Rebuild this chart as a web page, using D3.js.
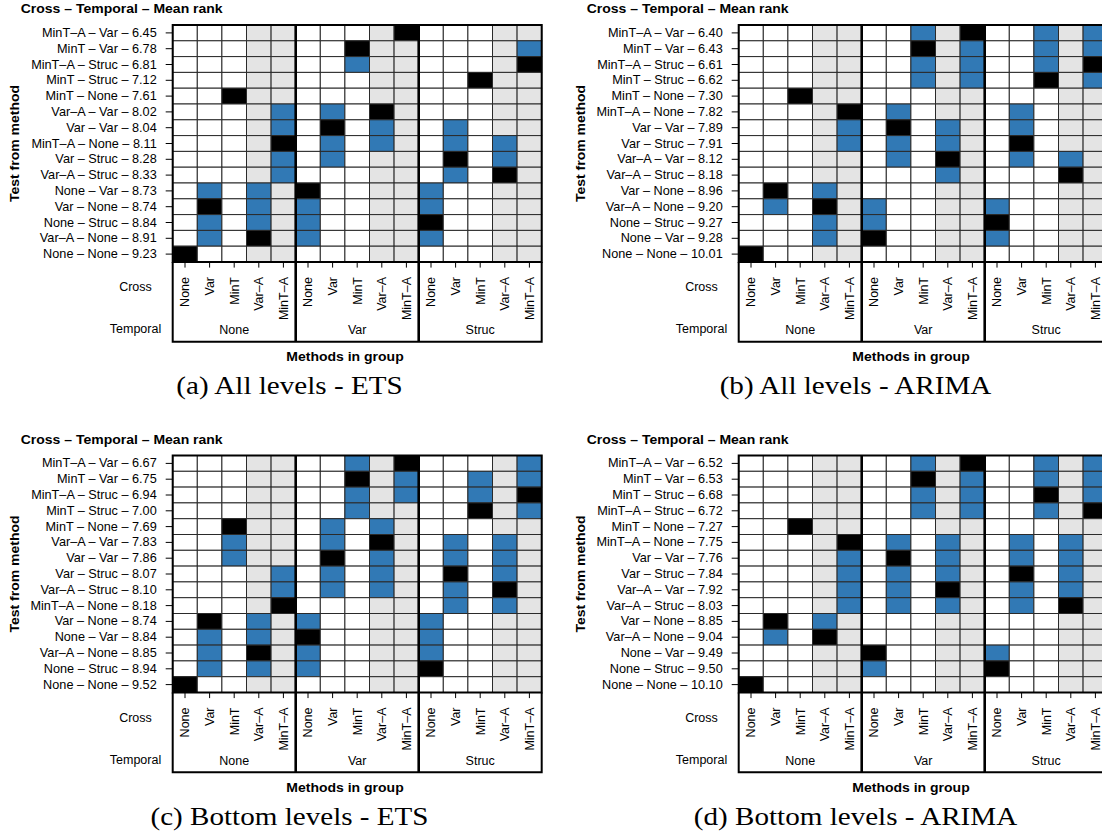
<!DOCTYPE html>
<html>
<head>
<meta charset="utf-8">
<script src="https://cdn.jsdelivr.net/npm/d3@7"></script>
<style>
  body { margin: 0; background: #fff; }
  svg { display: block; font-family: "Liberation Sans", Arial, sans-serif; }
</style>
</head>
<body>
<div id="chart"></div>
<script>
// Column layout: temporal groups, each holding the five cross-sectional methods
const crossLevels = ["None", "Var", "MinT", "Var–A", "MinT–A"];
const temporalLevels = ["None", "Var", "Struc"];
const shadedCross = ["Var–A", "MinT–A"];

// (a) All levels - ETS
const aCross = ["MinT–A", "MinT", "MinT–A", "MinT", "MinT", "Var–A", "Var", "MinT–A", "Var", "Var–A", "None", "Var", "None", "Var–A", "None"];
const aTemporal = ["Var", "Var", "Struc", "Struc", "None", "Var", "Var", "None", "Struc", "Struc", "Var", "None", "Struc", "None", "None"];
const aRank = [6.45, 6.78, 6.81, 7.12, 7.61, 8.02, 8.04, 8.11, 8.28, 8.33, 8.73, 8.74, 8.84, 8.91, 9.23];
const aSimilar = [[], [14], [7], [], [], [4, 6], [4, 8, 11], [6, 8, 11, 13], [4, 6, 13], [4, 11], [1, 3, 10], [3, 5, 10], [1, 3, 5], [1, 5, 10], []];

// (b) All levels - ARIMA
const bCross = ["MinT–A", "MinT", "MinT–A", "MinT", "MinT", "MinT–A", "Var", "Var", "Var–A", "Var–A", "Var", "Var–A", "None", "None", "None"];
const bTemporal = ["Var", "Var", "Struc", "Struc", "None", "None", "Var", "Struc", "Var", "Struc", "None", "None", "Struc", "Var", "None"];
const bRank = [6.40, 6.43, 6.61, 6.62, 7.30, 7.82, 7.89, 7.91, 8.12, 8.18, 8.96, 9.20, 9.27, 9.28, 10.01];
const bSimilar = [[7, 12, 14], [9, 12, 14], [7, 9, 12], [7, 9, 14], [], [6, 11], [4, 8, 11], [4, 6, 8], [6, 11, 13], [8], [3], [1, 5, 10], [3, 5], [3, 10], []];

// (c) Bottom levels - ETS
const cCross = ["MinT–A", "MinT", "MinT–A", "MinT", "MinT", "Var–A", "Var", "Var", "Var–A", "MinT–A", "Var", "None", "Var–A", "None", "None"];
const cTemporal = ["Var", "Var", "Struc", "Struc", "None", "Var", "Var", "Struc", "Struc", "None", "None", "Var", "None", "Struc", "None"];
const cRank = [6.67, 6.75, 6.94, 7.00, 7.69, 7.83, 7.86, 8.07, 8.10, 8.18, 8.74, 8.84, 8.85, 8.94, 9.52];
const cSimilar = [[7, 14], [9, 12, 14], [7, 9, 12], [7, 14], [6, 8], [2, 6, 11, 13], [2, 8, 11, 13], [4, 6, 8, 13], [4, 6, 8, 11], [11, 13], [3, 5, 10], [1, 3, 10], [1, 5, 10], [1, 3, 5], []];

// (d) Bottom levels - ARIMA
const dCross = ["MinT–A", "MinT", "MinT", "MinT–A", "MinT", "MinT–A", "Var", "Var", "Var–A", "Var–A", "Var", "Var–A", "None", "None", "None"];
const dTemporal = ["Var", "Var", "Struc", "Struc", "None", "None", "Var", "Struc", "Var", "Struc", "None", "None", "Var", "Struc", "None"];
const dRank = [6.52, 6.53, 6.68, 6.72, 7.27, 7.75, 7.76, 7.84, 7.92, 8.03, 8.85, 9.04, 9.49, 9.50, 10.10];
const dSimilar = [[7, 12, 14], [9, 12, 14], [7, 9, 14], [7, 9, 12], [], [6, 8, 11, 13], [4, 8, 11, 13], [4, 6, 8, 13], [4, 6, 11, 13], [4, 6, 8, 11], [3], [1], [10], [5], []];

const captions = ["(a) All levels - ETS", "(b) All levels - ARIMA", "(c) Bottom levels - ETS", "(d) Bottom levels - ARIMA"];

const panels = [
  { cross: aCross, temporal: aTemporal, rank: aRank, similar: aSimilar, dx: 0, dy: 0 },
  { cross: bCross, temporal: bTemporal, rank: bRank, similar: bSimilar, dx: 566, dy: 0 },
  { cross: cCross, temporal: cTemporal, rank: cRank, similar: cSimilar, dx: 0, dy: 430.5 },
  { cross: dCross, temporal: dTemporal, rank: dRank, similar: dSimilar, dx: 566, dy: 430.5 }
];

const W = 1102, H = 836;
const BLUE = "#3179b5", GREY = "#e4e4e4";
const gridLeft = 172.7, gridRight = 541.7, gridTop = 25, gridBottom = 262, boxBottom = 341.7;

const svg = d3.select("#chart").append("svg")
  .attr("width", W)
  .attr("height", H);

svg.append("rect").attr("width", W).attr("height", H).attr("fill", "#fff");

const colKeys = [];
temporalLevels.forEach(t => crossLevels.forEach(c => colKeys.push(t + "|" + c)));

const x = d3.scaleBand().domain(colKeys).range([gridLeft, gridRight]);
const groupX = d3.scaleBand().domain(temporalLevels).range([gridLeft, gridRight]);

panels.forEach((p, pi) => {
  const g = svg.append("g").attr("transform", `translate(${p.dx},${p.dy})`);

  const rowLabels = p.cross.map((c, i) => `${c} – ${p.temporal[i]} – ${p.rank[i].toFixed(2)}`);
  const y = d3.scaleBand().domain(rowLabels).range([gridTop, gridBottom]);

  // one cell per (row, column)
  const cells = [];
  rowLabels.forEach((r, ri) => {
    const own = p.temporal[ri] + "|" + p.cross[ri];
    colKeys.forEach((k, ci) => {
      let fill = shadedCross.includes(k.split("|")[1]) ? GREY : "#fff";
      if (p.similar[ri].includes(ci)) fill = BLUE;
      if (k === own) fill = "#000";
      cells.push({ row: r, col: k, fill: fill });
    });
  });

  g.selectAll("rect.cell")
    .data(cells)
    .enter()
    .append("rect")
    .attr("class", "cell")
    .attr("x", d => x(d.col))
    .attr("y", d => y(d.row))
    .attr("width", x.bandwidth())
    .attr("height", y.bandwidth())
    .attr("fill", d => d.fill)
    .attr("stroke", "#2a2a2a")
    .attr("stroke-width", 1);

  // left axis: ticks + labels
  const yAxis = g.append("g")
    .attr("transform", `translate(${gridLeft},0)`)
    .call(d3.axisLeft(y).tickSize(7).tickPadding(9));
  yAxis.select(".domain").remove();
  yAxis.selectAll("line").attr("stroke", "#000").attr("stroke-width", 1);
  yAxis.selectAll("text")
    .attr("font-family", "Liberation Sans, Arial, sans-serif")
    .attr("font-size", "12.7px")
    .attr("fill", "#000");

  // bottom axis: ticks + rotated cross labels
  const xAxis = g.append("g")
    .attr("transform", `translate(0,${gridBottom})`)
    .call(d3.axisBottom(x).tickSize(5.6).tickFormat(k => k.split("|")[1]));
  xAxis.select(".domain").remove();
  xAxis.selectAll("line").attr("stroke", "#000");
  xAxis.selectAll("text")
    .attr("font-family", "Liberation Sans, Arial, sans-serif")
    .attr("font-size", "12.5px")
    .attr("fill", "#000")
    .attr("transform", "rotate(-90)")
    .attr("text-anchor", "end")
    .attr("x", -15)
    .attr("y", 0)
    .attr("dy", "0.35em");

  // outer borders
  g.append("rect")
    .attr("x", gridLeft).attr("y", gridTop)
    .attr("width", gridRight - gridLeft).attr("height", gridBottom - gridTop)
    .attr("fill", "none").attr("stroke", "#000").attr("stroke-width", 2);

  g.append("path")
    .attr("d", `M${gridLeft},${gridBottom}V${boxBottom}H${gridRight}V${gridBottom}`)
    .attr("fill", "none").attr("stroke", "#000").attr("stroke-width", 2);

  // group separators
  g.selectAll("line.sep")
    .data(temporalLevels.slice(1))
    .enter()
    .append("line")
    .attr("class", "sep")
    .attr("x1", d => groupX(d)).attr("x2", d => groupX(d))
    .attr("y1", gridTop).attr("y2", boxBottom)
    .attr("stroke", "#000").attr("stroke-width", 2.6);

  // temporal group labels
  g.selectAll("text.grp")
    .data(temporalLevels)
    .enter()
    .append("text")
    .attr("class", "grp")
    .attr("x", d => groupX(d) + groupX.bandwidth() / 2)
    .attr("y", 330)
    .attr("dy", "0.35em")
    .attr("text-anchor", "middle")
    .attr("font-size", "12.5px")
    .text(d => d);

  g.append("text").attr("x", 135.5).attr("y", 287).attr("dy", "0.35em")
    .attr("text-anchor", "middle").attr("font-size", "12.5px").text("Cross");
  g.append("text").attr("x", 135.5).attr("y", 329).attr("dy", "0.35em")
    .attr("text-anchor", "middle").attr("font-size", "12.5px").text("Temporal");

  // titles (the original bold face runs wider than Arial, so stretch a little)
  g.append("text")
    .attr("transform", "translate(20.7,13.3) scale(1.12,1)")
    .attr("font-size", "12.5px").attr("font-weight", "bold")
    .text("Cross – Temporal – Mean rank");

  g.append("text")
    .attr("transform", `translate(15,${(gridTop + gridBottom) / 2}) rotate(-90) scale(1.12,1)`)
    .attr("dy", "0.35em")
    .attr("text-anchor", "middle")
    .attr("font-size", "12.5px").attr("font-weight", "bold")
    .text("Test from method");

  g.append("text")
    .attr("transform", "translate(345,357) scale(1.12,1)")
    .attr("dy", "0.35em")
    .attr("text-anchor", "middle")
    .attr("font-size", "12.5px").attr("font-weight", "bold")
    .text("Methods in group");

  g.append("text")
    .attr("transform", "translate(289.5,385) scale(1.12,1)")
    .attr("dy", "0.35em")
    .attr("text-anchor", "middle")
    .attr("font-family", "Liberation Serif, Times New Roman, serif")
    .attr("font-size", "26px")
    .text(captions[pi]);
});
</script>
</body>
</html>
